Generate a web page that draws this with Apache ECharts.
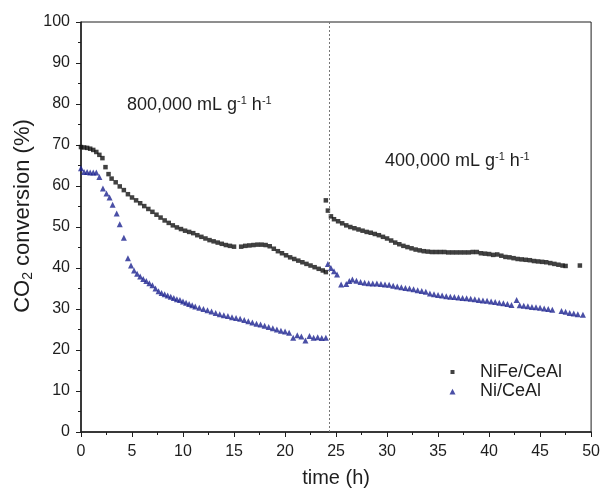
<!DOCTYPE html>
<html><head><meta charset="utf-8">
<script src="https://cdn.jsdelivr.net/npm/echarts@6/dist/echarts.min.js"></script>
<style>html,body{margin:0;padding:0;background:#fff}#c{width:603px;height:493px}</style>
</head><body><div id="c"></div>
<script>
// NiFe/CeAl, 800,000 mL g-1 h-1 period
const nife1X = [0,0.3,0.6,0.9,1.2,1.5,1.8,2.1,2.4,2.7,3.0,3.4,3.8,4.2,4.6,5.0,5.4,5.8,6.2,6.6,7.0,7.4,7.8,8.2,8.6,9.0,9.4,9.8,10.2,10.6,11.0,11.4,11.8,12.2,12.6,13.0,13.4,13.8,14.2,14.6,15.0,15.7,16.1,16.5,16.9,17.3,17.7,18.1,18.5,18.9,19.3,19.7,20.1,20.5,20.9,21.3,21.7,22.1,22.5,22.9,23.3,23.7,24.0];
const nife1Y = [69.5,69.4,69.3,69.1,68.8,68.3,67.6,66.8,64.6,62.9,61.8,60.9,59.9,59.0,58.0,57.2,56.5,55.8,55.1,54.4,53.7,53.0,52.3,51.6,51.0,50.4,49.9,49.5,49.1,48.8,48.5,48.0,47.6,47.2,46.8,46.5,46.2,45.9,45.6,45.4,45.2,45.2,45.4,45.5,45.6,45.7,45.7,45.6,45.3,44.7,44.1,43.6,43.1,42.6,42.2,41.8,41.4,41.0,40.6,40.2,39.8,39.4,39.0];
// NiFe/CeAl, 400,000 mL g-1 h-1 period
const nife2X = [24.0,24.2,24.5,24.8,25.2,25.6,26.0,26.4,26.8,27.2,27.6,28.0,28.4,28.8,29.2,29.6,30.0,30.4,30.8,31.2,31.6,32.0,32.4,32.8,33.2,33.6,34.0,34.4,34.8,35.2,35.6,36.0,36.4,36.8,37.2,37.6,38.0,38.4,38.8,39.2,39.6,40.0,40.4,40.8,41.2,41.6,42.0,42.4,42.8,43.2,43.6,44.0,44.4,44.8,45.2,45.6,46.0,46.4,46.8,47.2,47.5,48.9];
const nife2Y = [56.5,54.0,52.6,51.9,51.4,50.9,50.4,50.0,49.7,49.4,49.1,48.8,48.6,48.3,48.0,47.6,47.2,46.7,46.2,45.8,45.4,45.1,44.8,44.5,44.3,44.1,44.0,43.9,43.9,43.9,43.9,43.8,43.8,43.8,43.8,43.8,43.8,43.9,43.9,43.6,43.5,43.4,43.2,43.3,43.0,42.7,42.6,42.4,42.2,42.1,42.0,41.9,41.7,41.6,41.5,41.4,41.2,41.0,40.8,40.6,40.5,40.6];
// Ni/CeAl, 800,000 period
const ni1X = [0,0.3,0.6,0.9,1.2,1.5,1.8,2.15,2.5,2.8,3.1,3.5,3.8,4.2,4.6,4.9,5.2,5.5,5.8,6.1,6.4,6.7,7.0,7.3,7.6,7.9,8.2,8.5,8.8,9.1,9.4,9.7,10.0,10.3,10.6,10.9,11.2,11.6,12.0,12.4,12.8,13.2,13.6,14.0,14.4,14.8,15.2,15.6,16.0,16.4,16.8,17.2,17.6,18.0,18.4,18.8,19.2,19.6,20.0,20.4,20.8,21.2,21.6,22.0,22.4,22.8,23.2,23.6,24.0];
const ni1Y = [64.3,63.4,63.4,63.3,63.3,63.3,62.2,59.4,58.2,57.2,55.4,53.3,50.7,47.4,42.4,40.6,39.4,38.6,37.9,37.3,36.8,36.3,35.8,35.0,34.3,33.9,33.6,33.3,33.0,32.7,32.4,32.2,31.8,31.5,31.2,30.9,30.6,30.3,30.0,29.7,29.4,29.0,28.7,28.5,28.3,28.0,27.8,27.6,27.3,27.0,26.7,26.4,26.2,25.9,25.6,25.3,25.0,24.7,24.5,24.2,23.0,23.6,23.3,22.3,23.4,23.0,23.1,22.9,23.0];
// Ni/CeAl, 400,000 period
const ni2X = [24.2,24.5,24.8,25.1,25.5,26.0,26.3,26.6,27.0,27.4,27.8,28.2,28.6,29.0,29.4,29.8,30.2,30.6,31.0,31.4,31.8,32.2,32.6,33.0,33.4,33.8,34.2,34.6,35.0,35.4,35.8,36.2,36.6,37.0,37.4,37.8,38.2,38.6,39.0,39.4,39.8,40.2,40.6,41.0,41.4,41.8,42.2,42.7,43.0,43.4,43.8,44.2,44.6,45.0,45.4,45.8,46.2,47.1,47.5,47.9,48.3,48.7,49.2];
const ni2Y = [41.0,40.0,39.2,38.4,36.0,36.1,36.8,37.2,36.9,36.6,36.4,36.3,36.2,36.2,36.1,36.0,35.9,35.7,35.5,35.3,35.1,35.0,34.8,34.6,34.4,34.2,33.8,33.6,33.4,33.3,33.1,33.0,32.9,32.8,32.7,32.6,32.5,32.4,32.2,32.1,32.0,31.8,31.7,31.5,31.4,31.2,31.0,32.2,30.9,30.8,30.7,30.5,30.4,30.3,30.1,30.0,29.8,29.5,29.3,29.0,28.9,28.7,28.6];

const xTicks = [0,5,10,15,20,25,30,35,40,45,50];
const yTicks = [0,10,20,30,40,50,60,70,80,90,100];
const switchTime = 24.3;

const pair = (xs, ys) => xs.map((x, i) => [x, ys[i]]);
const FONT = 'Liberation Sans';
const INK = '#1e1e1e';
const BLUE = '#1d2390';
// legend icons: invisible moveTo points pad the box so the mark stays small at the left
const legendSquare = 'path://M0,0 M26,7 M1.5,1.5 L5.5,1.5 L5.5,5.5 L1.5,5.5 Z';
const legendTri = 'path://M0,0 M26,7 M0.5,6.5 L3.5,0.8 L6.5,6.5 Z';

const supRich = {
  n: { fontSize: 18, fill: INK, fontFamily: FONT },
  s: { fontSize: 11, fill: INK, fontFamily: FONT, verticalAlign: 'top', padding: [0, 0, 8, 0] }
};

const chart = echarts.init(document.getElementById('c'));
chart.setOption({
  animation: false,
  textStyle: { fontFamily: FONT },
  grid: { left: 81, right: 10, top: 22, bottom: 61, show: true, borderColor: INK, borderWidth: 1 },
  xAxis: {
    type: 'value', min: xTicks[0], max: xTicks[xTicks.length - 1], interval: 5,
    name: 'time (h)', nameLocation: 'middle', nameGap: 36,
    nameTextStyle: { fontSize: 20, color: INK, fontFamily: FONT },
    axisLine: { onZero: false, lineStyle: { color: INK, width: 1.5 } },
    axisTick: { show: true, inside: false, length: 5, lineStyle: { color: INK } },
    minorTick: { show: true, splitNumber: 2, length: 3, lineStyle: { color: INK } },
    axisLabel: { fontSize: 16, color: INK, margin: 12, fontFamily: FONT },
    splitLine: { show: false }
  },
  yAxis: {
    type: 'value', min: yTicks[0], max: yTicks[yTicks.length - 1], interval: 10,
    axisLine: { show: true, lineStyle: { color: INK, width: 1.5 } },
    axisTick: { show: true, inside: false, length: 5, lineStyle: { color: INK } },
    minorTick: { show: true, splitNumber: 2, length: 3, lineStyle: { color: INK } },
    axisLabel: { fontSize: 16, color: INK, margin: 11, fontFamily: FONT },
    splitLine: { show: false }
  },
  legend: {
    orient: 'vertical', left: 444, top: 358, itemWidth: 26, itemHeight: 7, itemGap: 1.5,
    textStyle: { fontSize: 18, color: INK, fontFamily: FONT, lineHeight: 18 },
    data: [{ name: 'NiFe/CeAl', icon: legendSquare }, { name: 'Ni/CeAl', icon: legendTri }]
  },
  series: [
    { name: 'NiFe/CeAl', type: 'scatter', symbol: 'rect', symbolSize: 4.5,
      itemStyle: { color: '#111' }, data: pair(nife1X, nife1Y),
      markLine: { silent: true, symbol: 'none', label: { show: false },
        lineStyle: { type: [2, 2], color: '#777', width: 1 }, data: [{ xAxis: switchTime }] } },
    { name: 'NiFe/CeAl', type: 'scatter', symbol: 'rect', symbolSize: 4.5,
      itemStyle: { color: '#111' }, data: pair(nife2X, nife2Y) },
    { name: 'Ni/CeAl', type: 'scatter', symbol: 'triangle', symbolSize: 6,
      itemStyle: { color: BLUE }, data: pair(ni1X, ni1Y) },
    { name: 'Ni/CeAl', type: 'scatter', symbol: 'triangle', symbolSize: 6,
      itemStyle: { color: BLUE }, data: pair(ni2X, ni2Y) }
  ],
  graphic: [
    { type: 'text', x: 23, y: 216, rotation: Math.PI / 2,
      style: { text: '{n|CO}{b|2}{n| conversion (%)}', align: 'center', verticalAlign: 'middle',
        rich: { n: { fontSize: 22, fill: INK, fontFamily: FONT },
                b: { fontSize: 14, fill: INK, fontFamily: FONT, verticalAlign: 'bottom', padding: [10, 0, 0, 0] } } } },
    { type: 'text', x: 127, y: 105, style: { text: '{n|800,000 mL g}{s|-1}{n| h}{s|-1}', verticalAlign: 'middle', rich: supRich } },
    { type: 'text', x: 385, y: 161, style: { text: '{n|400,000 mL g}{s|-1}{n| h}{s|-1}', verticalAlign: 'middle', rich: supRich } }
  ]
});
</script></body></html>
